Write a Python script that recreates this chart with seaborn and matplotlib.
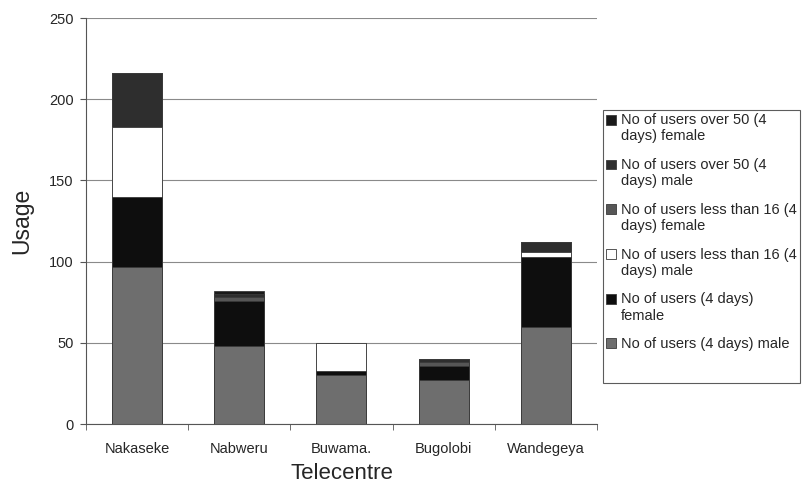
import numpy as np
import pandas as pd
import matplotlib
matplotlib.use("Agg")
import matplotlib.pyplot as plt
from matplotlib.patches import Patch, Rectangle
from matplotlib.legend_handler import HandlerPatch
import seaborn as sns

centres = ["Nakaseke", "Nabweru", "Buwama.", "Bugolobi", "Wandegeya"]

# Series, bottom of the stack first
series_names = [
    "No of users (4 days) male",
    "No of users (4 days)\nfemale",
    "No of users less than 16 (4\ndays) male",
    "No of users less than 16 (4\ndays) female",
    "No of users over 50 (4\ndays) male",
    "No of users over 50 (4\ndays) female",
]
male_4d = [97, 48, 30, 27, 60]
female_4d = [43, 28, 3, 9, 43]
under16_male = [43, 0, 17, 0, 3]
under16_female = [0, 2, 0, 2, 0]
over50_male = [33, 2, 0, 2, 6]
over50_female = [0, 2, 0, 0, 0]

series_values = [male_4d, female_4d, under16_male, under16_female,
                 over50_male, over50_female]
series_colors = ["#6e6e6e", "#0e0e0e", "#ffffff", "#565656", "#2e2e2e", "#1a1a1a"]


class TopAlignedPatch(HandlerPatch):
    """Square legend key raised to sit beside the first line of a wrapped label."""

    def __init__(self, lift=0.0, **kw):
        super().__init__(**kw)
        self.lift = lift

    def create_artists(self, legend, orig_handle, xdescent, ydescent,
                       width, height, fontsize, trans):
        p = Rectangle(xy=(-xdescent, -ydescent + self.lift * fontsize),
                      width=width, height=height)
        self.update_prop(p, orig_handle, legend)
        p.set_transform(trans)
        return [p]


sns.set_style("white")
plt.rcParams["font.family"] = ["Liberation Sans", "DejaVu Sans"]

fig = plt.figure(figsize=(8.12, 4.87), dpi=100)
ax = fig.add_axes([0.106, 0.129, 0.629, 0.834])

# Stacked bars: draw cumulative totals from the top layer down
cum = np.cumsum(np.array(series_values, dtype=float), axis=0)
for i in range(len(series_names) - 1, -1, -1):
    df = pd.DataFrame({"Telecentre": centres, "Usage": cum[i]})
    sns.barplot(data=df, x="Telecentre", y="Usage", order=centres,
                color=series_colors[i], saturation=1, width=0.49,
                edgecolor="#3a3a3a", linewidth=0.6, ax=ax)

ax.set_ylim(0, 250)
ax.set_xlim(-0.5, 4.5)
ax.set_yticks([0, 50, 100, 150, 200, 250])
ax.yaxis.grid(True, color="#8a8a8a", linewidth=0.8)
ax.set_axisbelow(True)
for s in ["top", "right"]:
    ax.spines[s].set_visible(False)
for s in ["left", "bottom"]:
    ax.spines[s].set_color("#555555")
    ax.spines[s].set_linewidth(0.8)

ax.tick_params(axis="y", length=4, color="#555555", labelsize=10.5, left=True, pad=5)
ax.tick_params(axis="x", which="major", length=0, labelsize=10.5, pad=13)
ax.set_xticks(np.arange(-0.5, 5.0, 1.0), minor=True)
ax.tick_params(axis="x", which="minor", length=4, color="#555555", bottom=True)

ax.set_xlabel("Telecentre", fontsize=16, labelpad=5)
ax.set_ylabel("Usage", fontsize=16.5, labelpad=11)

handles, labels, hmap = [], [], {}
for i in range(len(series_names) - 1, -1, -1):
    h = Patch(facecolor=series_colors[i], edgecolor="#3a3a3a", linewidth=0.6)
    handles.append(h)
    labels.append(series_names[i])
    lift = 0.62 * series_names[i].count("\n")
    hmap[h] = TopAlignedPatch(lift=lift)
# blank row to leave room at the bottom of the box
blank = Patch(facecolor="none", edgecolor="none")
handles.append(blank)
labels.append(" ")

leg = fig.legend(handles=handles, labels=labels, handler_map=hmap,
                 loc="upper left", bbox_to_anchor=(0.742, 0.775),
                 frameon=True, fancybox=False, fontsize=10.5,
                 handlelength=0.65, handleheight=0.65, handletextpad=0.35,
                 labelspacing=1.0, borderpad=0.25, borderaxespad=0)
leg.get_frame().set_edgecolor("#333333")
leg.get_frame().set_linewidth(0.8)

fig.savefig("out.png", dpi=100)
